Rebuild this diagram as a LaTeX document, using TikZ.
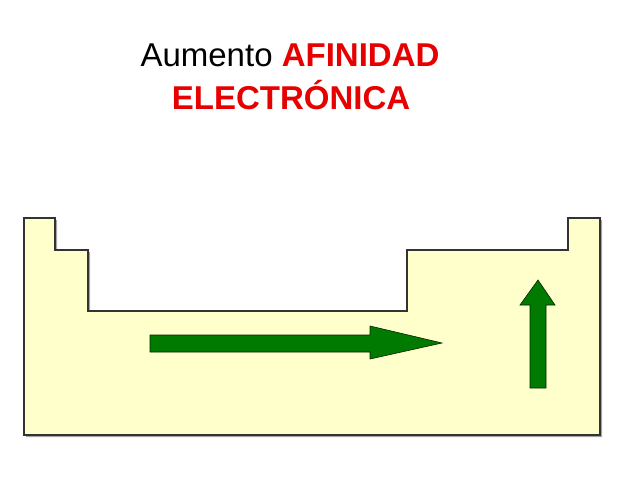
\documentclass[tikz,border=0pt]{standalone}
\usepackage{fontspec}
\setmainfont{Liberation Sans}
\definecolor{tabfill}{RGB}{255,255,204}
\definecolor{arrgreen}{RGB}{0,122,0}
\definecolor{tred}{RGB}{230,0,0}
\begin{document}
\begin{tikzpicture}[x=1pt,y=-1pt,
  arrowshape/.style={fill=arrgreen,draw=black!70!arrgreen,line width=0.6pt},
  title/.style={font=\fontsize{33}{40}\selectfont,inner sep=0pt}]
\useasboundingbox (0,0) rectangle (638,479);
\fill[black!35] (26,220) -- (57,220) -- (57,252) -- (90,252) -- (90,313) -- (409,313) -- (409,252) -- (570,252) -- (570,220) -- (602,220) -- (602,437) -- (26,437) -- cycle;
\draw[fill=tabfill,line width=1.2pt,draw=black!80] (24,218) -- (55,218) -- (55,250) -- (88,250) -- (88,311) -- (407,311) -- (407,250) -- (568,250) -- (568,218) -- (600,218) -- (600,435) -- (24,435) -- cycle;
\draw[arrowshape] (150,335) -- (370,335) -- (370,326) -- (442,343) -- (370,359) -- (370,352) -- (150,352) -- cycle;
\draw[arrowshape] (530,388) -- (530,305) -- (520,305) -- (538,280) -- (555,305) -- (546,305) -- (546,388) -- cycle;
\node[title] (t1) at (290,55) {Aumento \textcolor{tred}{\textbf{AFINIDAD}}};
\node[title,text=tred,font=\fontsize{33}{40}\selectfont\bfseries] (t2) at (291,95) {ELECTRÓNICA};
\end{tikzpicture}
\end{document}
